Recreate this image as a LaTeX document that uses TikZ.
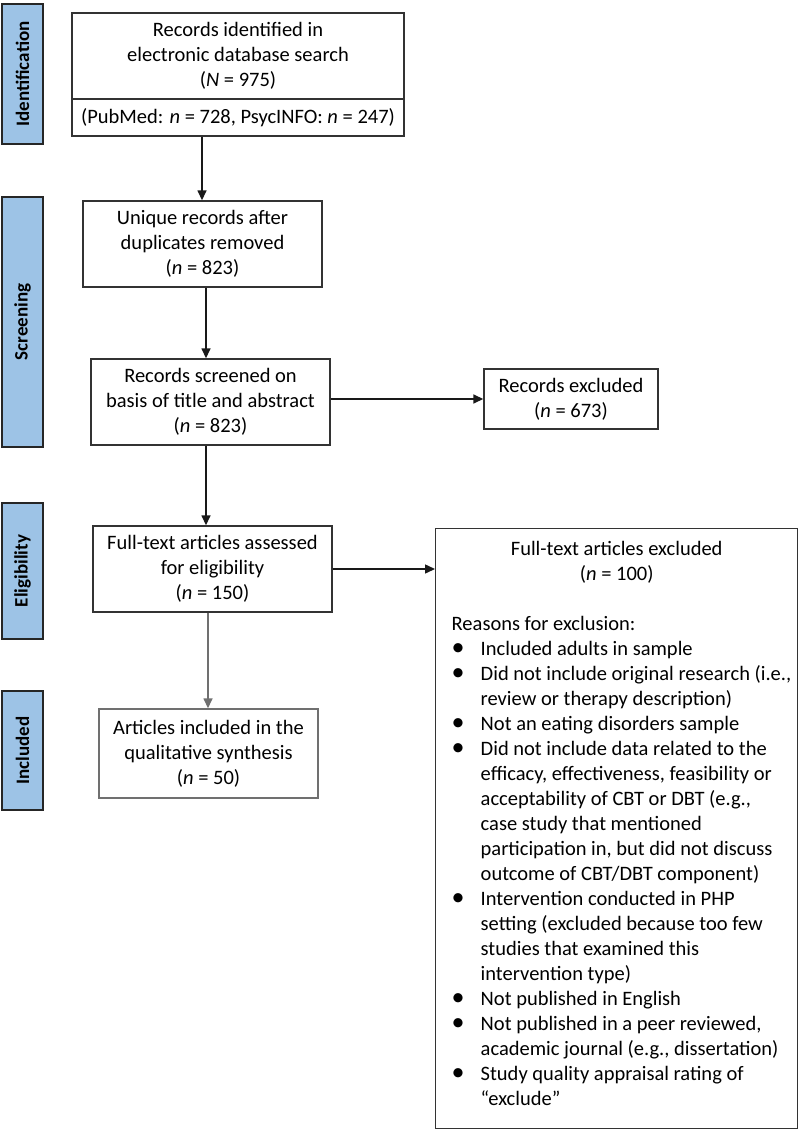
\documentclass[tikz,border=0pt]{standalone}
\usepackage{fontspec}
\setmainfont{Carlito}
\usetikzlibrary{arrows.meta}
\definecolor{lblblue}{HTML}{9DC3E6}
\definecolor{bord}{HTML}{333333}
\definecolor{bordg}{HTML}{707070}
\newcommand\bulline[1]{\par\leavevmode\llap{\makebox[29pt][l]{\raisebox{0.5pt}{\fontsize{26}{25}\selectfont\textbullet}}}\mbox{#1}}
\newcommand\contline[1]{\par\leavevmode\mbox{#1}}
\begin{document}
\begin{tikzpicture}[x=1pt,y=-1pt,
  every node/.style={font=\fontsize{20.5}{25}\selectfont},
  box/.style={draw=bord, line width=1.4pt, align=center, inner sep=0pt},
  lbl/.style={draw=black!85, fill=lblblue, line width=1.6pt, inner sep=0pt,
    font=\fontsize{19}{23}\selectfont\bfseries},
  arr/.style={draw=black!90, line width=1.5pt, -{Triangle[length=10pt,width=9pt]}}]
\useasboundingbox (0,0) rectangle (800,1131);
% phase labels
\node[lbl, rotate=90, minimum width=140pt, minimum height=41pt] (L1) at (22.5,74) {Identification};
\node[lbl, rotate=90, minimum width=250pt, minimum height=41pt] (L2) at (22.5,322) {Screening};
\node[lbl, rotate=90, minimum width=136pt, minimum height=41pt] (L3) at (22.5,571) {Eligibility};
\node[lbl, rotate=90, minimum width=119pt, minimum height=41pt] (L4) at (22.5,750.5) {Included};
% boxes
\node[box, minimum width=332pt, minimum height=86pt] (b1a) at (238,56)
  {Records identified in\\electronic database search\\(\textit{N} = 975)};
\node[box, minimum width=332pt, minimum height=37pt] (b1b) at (238,117.5)
  {(PubMed: \textit{n} = 728, PsycINFO: \textit{n} = 247)};
\node[box, minimum width=239pt, minimum height=86pt] (b2) at (202.5,244)
  {Unique records after\\duplicates removed\\(\textit{n} = 823)};
\node[box, minimum width=239pt, minimum height=86pt] (b3) at (210.5,402)
  {Records screened on\\basis of title and abstract\\(\textit{n} = 823)};
\node[box, minimum width=239pt, minimum height=86pt] (b4) at (212.5,569)
  {Full-text articles assessed\\for eligibility\\(\textit{n} = 150)};
\node[box, draw=bordg, minimum width=219pt, minimum height=89pt] (b5) at (208.5,753.5)
  {Articles included in the\\qualitative synthesis\\(\textit{n} = 50)};
\node[box, minimum width=174pt, minimum height=60pt] (ex1) at (571,399)
  {Records excluded\\(\textit{n} = 673)};
\node[draw=bord, line width=1.4pt, inner sep=0pt, anchor=north west] (ex2) at (435,528)
  {\begin{minipage}[t][600pt][t]{362pt}%
   \setlength{\parindent}{0pt}\setlength{\parskip}{0pt}%
   \fontsize{20.5}{25}\selectfont
   \vspace*{9.5pt}%
   {\centering\strut Full-text articles excluded\\(\textit{n} = 100)\par}%
   \mbox{}\par
   \leftskip=16pt \rightskip=0pt plus 1fil
   Reasons for exclusion:\par
   \leftskip=45pt
   \bulline{Included adults in sample}
   \bulline{Did not include original research (i.e.,}
   \contline{review or therapy description)}
   \bulline{Not an eating disorders sample}
   \bulline{Did not include data related to the}
   \contline{efficacy, effectiveness, feasibility or}
   \contline{acceptability of CBT or DBT (e.g.,}
   \contline{case study that mentioned}
   \contline{participation in, but did not discuss}
   \contline{outcome of CBT/DBT component)}
   \bulline{Intervention conducted in PHP}
   \contline{setting (excluded because too few}
   \contline{studies that examined this}
   \contline{intervention type)}
   \bulline{Not published in English}
   \bulline{Not published in a peer reviewed,}
   \contline{academic journal (e.g., dissertation)}
   \bulline{Study quality appraisal rating of}
   \contline{“exclude”}\par
   \end{minipage}};
% connectors
\coordinate (x12) at (202,0);
\coordinate (x23) at (206,0);
\coordinate (x34) at (206,0);
\coordinate (x45) at (208,0);
\draw[arr] (b1b.south -| x12) -- (b2.north -| x12);
\draw[arr] (b2.south -| x23) -- (b3.north -| x23);
\draw[arr] (b3.south -| x34) -- (b4.north -| x34);
\draw[arr, draw=bordg] (b4.south -| x45) -- (b5.north -| x45);
\draw[arr] (b3.east |- ex1.west) -- (ex1.west);
\draw[arr] (b4.east) -- (b4.east -| ex2.west);
\end{tikzpicture}
\end{document}
